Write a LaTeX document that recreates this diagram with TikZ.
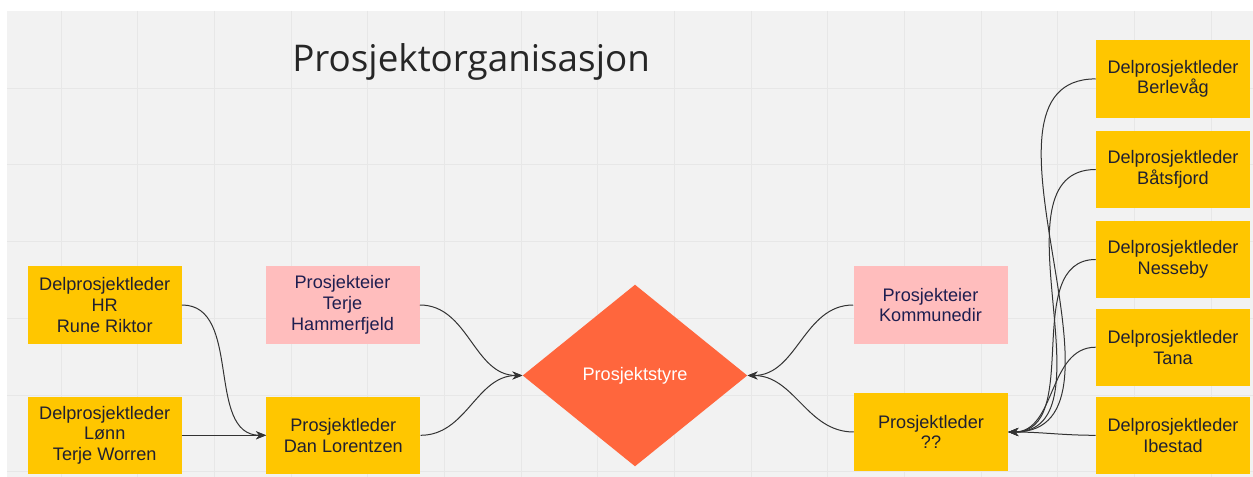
\documentclass[tikz,border=0pt]{standalone}
\usepackage{fontspec}
\setmainfont{Liberation Sans}
\newfontfamily\titlefont{Open Sans}
\usetikzlibrary{arrows.meta,shapes.geometric}

\definecolor{boardgray}{RGB}{242,242,242}
\definecolor{gridgray}{RGB}{231,231,231}
\definecolor{stickyyellow}{RGB}{255,198,0}
\definecolor{stickypink}{RGB}{255,189,189}
\definecolor{styreorange}{RGB}{255,102,61}
\definecolor{cardtext}{RGB}{32,32,48}
\definecolor{eiertext}{RGB}{30,30,80}
\definecolor{linkgray}{RGB}{51,51,51}

\begin{document}
\begin{tikzpicture}[x=0.75pt,y=0.75pt,yscale=-1,xscale=1,
  card/.style={rectangle, minimum width=115.5pt, minimum height=58pt, inner sep=0pt, align=center, font=\fontsize{13.6}{15.6}\selectfont},
  lederbox/.style={card, fill=stickyyellow, text=cardtext},
  eierbox/.style={card, fill=stickypink, text=eiertext},
  link/.style={draw=linkgray, line width=0.75pt, -{Stealth[length=7.5pt,width=6pt]}}]
\useasboundingbox (0,0) rectangle (1253,477);

%Board and grid
\fill[white] (0,0) rectangle (1253,477);
\fill[boardgray] (7,11) rectangle (1253,477);
\foreach \i in {0,...,15} \draw[gridgray, line width=0.75pt] ({61+76.67*\i},11) -- ({61+76.67*\i},477);
\foreach \j in {0,...,5} \draw[gridgray, line width=0.75pt] (7,{88.33+76.67*\j}) -- (1253,{88.33+76.67*\j});

% Title
\node (title) [anchor=base west, inner sep=0pt, text=black!85, font=\titlefont\fontsize{27.6}{32}\selectfont] at (292,71.7) {Prosjektorganisasjon};

% Left side
\node (hr) [lederbox] at (104.7,305) {Delprosjektleder\\HR\\Rune Riktor};
\node (lonn) [lederbox] at (104.7,435.3) {Delprosjektleder\\Lønn\\Terje Worren};
\node (eierA) [eierbox] at (342.5,305) {Prosjekteier\\Terje\\Hammerfjeld};
\node (lederA) [lederbox] at (343.3,435.3) {Prosjektleder\\Dan Lorentzen};

% Steering board
\node (styre) [diamond, fill=styreorange, text=white, inner sep=0pt, minimum width=168.5pt, minimum height=136.3pt, font=\fontsize{13.6}{15.6}\selectfont] at (635,375.5) {Prosjektstyre};

% Right side
\node (eierB) [eierbox] at (930.5,305) {Prosjekteier\\Kommunedir};
\node (lederB) [lederbox] at (931,432) {Prosjektleder\\??};
\node (berlevag) [lederbox] at (1173,78.9) {Delprosjektleder\\Berlevåg};
\node (batsfjord) [lederbox] at (1173,169.5) {Delprosjektleder\\Båtsfjord};
\node (nesseby) [lederbox] at (1173,259.5) {Delprosjektleder\\Nesseby};
\node (tana) [lederbox] at (1173,347.2) {Delprosjektleder\\Tana};
\node (ibestad) [lederbox] at (1173,435.3) {Delprosjektleder\\Ibestad};

% Connectors
\draw[link] (hr.east) to[out=0,in=180] (lederA.west);
\draw[link] (lonn.east) -- (lederA.west);
\draw[link] (eierA.east) to[out=0,in=180] (styre.west);
\draw[link] (lederA.east) to[out=0,in=180] (styre.west);
\draw[link] (eierB.west) to[out=180,in=0] (styre.east);
\draw[link] (lederB.west) to[out=180,in=0] (styre.east);
\draw[link] (berlevag.west) to[out=180,in=0] (lederB.east);
\draw[link] (batsfjord.west) to[out=180,in=0] (lederB.east);
\draw[link] (nesseby.west) to[out=180,in=0] (lederB.east);
\draw[link] (tana.west) to[out=180,in=0] (lederB.east);
\draw[link] (ibestad.west) to[out=180,in=0] (lederB.east);

\end{tikzpicture}
\end{document}
